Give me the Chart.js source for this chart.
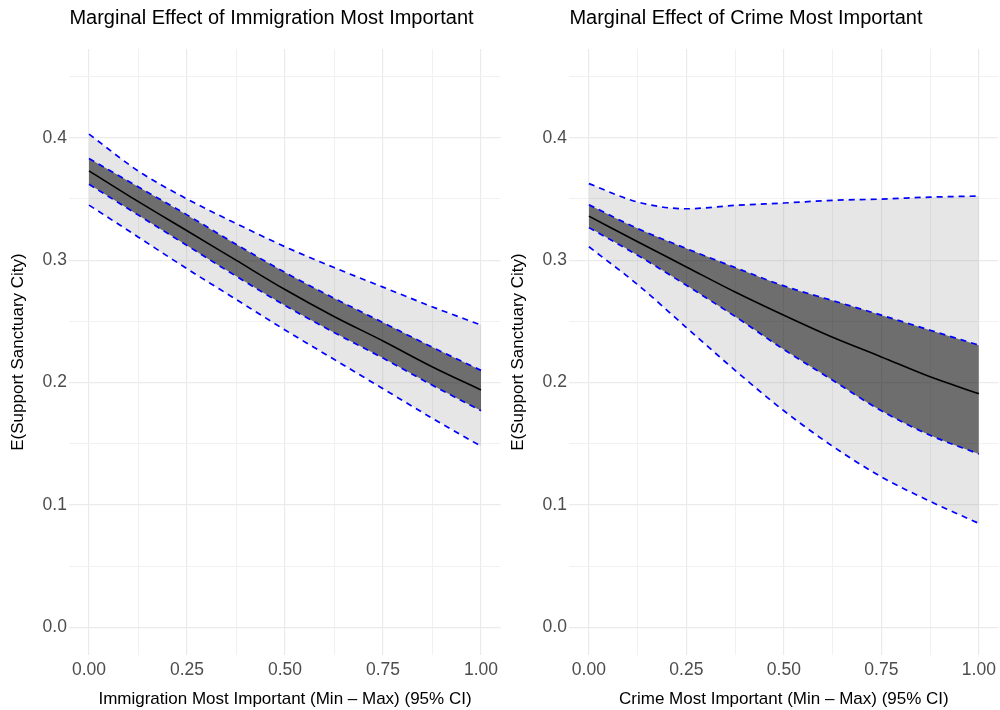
<!DOCTYPE html>
<html><head><meta charset="utf-8">
<script src="https://cdn.jsdelivr.net/npm/chart.js@4.4.1/dist/chart.umd.min.js"></script>
<style>
html,body{margin:0;padding:0;background:#fff;overflow:hidden;width:1000px;height:710px;}
#c1{position:absolute;left:0;top:0;}
#c2{position:absolute;left:500px;top:0;}
</style></head><body>
<canvas id="c1" width="510" height="710"></canvas>
<canvas id="c2" width="501" height="710"></canvas>
<script>
// ---- data ----
const xValues = [0, 0.125, 0.25, 0.375, 0.5, 0.625, 0.75, 0.875, 1];

const immFit    = [0.373, 0.348, 0.324, 0.300, 0.276, 0.254, 0.234, 0.213, 0.194];
const immHiIn   = [0.383, 0.360, 0.337, 0.313, 0.290, 0.269, 0.249, 0.229, 0.210];
const immLoIn   = [0.362, 0.337, 0.312, 0.287, 0.263, 0.241, 0.220, 0.198, 0.177];
const immHi95   = [0.403, 0.373, 0.350, 0.330, 0.311, 0.294, 0.278, 0.262, 0.247];
const immLo95   = [0.345, 0.319, 0.293, 0.268, 0.243, 0.219, 0.195, 0.171, 0.148];

const crimeFit  = [0.336, 0.315, 0.2945, 0.274, 0.255, 0.237, 0.221, 0.2047, 0.191];
const crimeHiIn = [0.3453, 0.3258, 0.3095, 0.294, 0.279, 0.267, 0.2551, 0.2428, 0.2306];
const crimeLoIn = [0.3266, 0.304, 0.2795, 0.254, 0.227, 0.202, 0.177, 0.157, 0.1417];
const crimeHi95 = [0.3625, 0.3475, 0.342, 0.3448, 0.3467, 0.3489, 0.3499, 0.3515, 0.3524];
const crimeLo95 = [0.311, 0.280, 0.245, 0.210, 0.177, 0.148, 0.123, 0.103, 0.085];

const xMajorValues = [0, 0.25, 0.5, 0.75, 1];
const xTickLabels  = ['0.00', '0.25', '0.50', '0.75', '1.00'];
const xGridValues  = [0, 0.125, 0.25, 0.375, 0.5, 0.625, 0.75, 0.875, 1];
const yMajorValues = [0, 0.1, 0.2, 0.3, 0.4];
const yTickLabels  = ['0.0', '0.1', '0.2', '0.3', '0.4'];
const yGridValues  = [0, 0.05, 0.1, 0.15, 0.2, 0.25, 0.3, 0.35, 0.4, 0.45];

const titles  = ['Marginal Effect of Immigration Most Important', 'Marginal Effect of Crime Most Important'];
const xTitles = ['Immigration Most Important (Min \u2013 Max) (95% CI)', 'Crime Most Important (Min \u2013 Max) (95% CI)'];
const yTitle  = 'E(Support Sanctuary City)';

// ---- styling ----
const FAM = "'Liberation Sans', Arial, Helvetica, sans-serif";
const BLUE = '#0000FF';
const DASH = [6, 5];

function findIdx(arr, v) {
  for (let i = 0; i < arr.length; i++) if (Math.abs(arr[i] - v) < 1e-6) return i;
  return -1;
}
const gridColor = majors => ctx => (ctx.tick && findIdx(majors, ctx.tick.value) >= 0) ? '#EBEBEB' : '#F1F1F1';
const gridWidth = majors => ctx => (ctx.tick && findIdx(majors, ctx.tick.value) >= 0) ? 1.2 : 1.0;

function buildChart(id, idx, fit, hiIn, loIn, hi95, lo95, padRight) {
  const pts = ys => xValues.map((x, i) => ({x: x, y: ys[i]}));
  const dashed = (ys, extra) => Object.assign({
    data: pts(ys), borderColor: BLUE, borderWidth: 1.7, borderDash: DASH, fill: false
  }, extra || {});
  return new Chart(document.getElementById(id), {
    type: 'line',
    data: {
      datasets: [
        {data: pts(fit), borderColor: '#000000', borderWidth: 1.6, fill: false},
        dashed(hiIn, {fill: '+1', backgroundColor: 'rgba(0,0,0,0.52)'}),
        dashed(loIn),
        dashed(hi95, {fill: '+1', backgroundColor: 'rgba(128,128,128,0.2)'}),
        dashed(lo95)
      ]
    },
    options: {
      responsive: false,
      animation: false,
      devicePixelRatio: 1,
      layout: {padding: {left: 0, right: padRight, top: 0, bottom: 0}},
      elements: {point: {radius: 0}, line: {cubicInterpolationMode: 'monotone'}},
      plugins: {
        legend: {display: false},
        tooltip: {enabled: false},
        filler: {drawTime: 'beforeDatasetsDraw'},
        title: {
          display: true, text: titles[idx], align: 'start', fullSize: false,
          color: '#000000', font: {family: FAM, size: 20, weight: 'normal'},
          padding: {top: 6, bottom: 19}
        }
      },
      scales: {
        x: {
          type: 'linear', min: -0.05, max: 1.05,
          afterBuildTicks: s => { s.ticks = xGridValues.map(v => ({value: v})); },
          afterFit: s => { s.height = 55; },
          grid: {drawTicks: false, color: gridColor(xMajorValues), lineWidth: gridWidth(xMajorValues)},
          border: {display: false},
          ticks: {
            autoSkip: false, maxRotation: 0, padding: 5, color: '#4D4D4D',
            font: {family: FAM, size: 17.5},
            callback: v => { const i = findIdx(xMajorValues, v); return i >= 0 ? xTickLabels[i] : ''; }
          },
          title: {display: true, text: xTitles[idx], color: '#000000',
                  font: {family: FAM, size: 17}, padding: {top: 0, bottom: 0}}
        },
        y: {
          type: 'linear', min: -0.0225, max: 0.4725,
          afterBuildTicks: s => { s.ticks = yGridValues.map(v => ({value: v})); },
          afterFit: s => { s.width = 69.4; },
          grid: {drawTicks: false, color: gridColor(yMajorValues), lineWidth: gridWidth(yMajorValues)},
          border: {display: false},
          ticks: {
            autoSkip: false, padding: 2.5, color: '#4D4D4D',
            font: {family: FAM, size: 17.5},
            callback: v => { const i = findIdx(yMajorValues, v); return i >= 0 ? yTickLabels[i] : ''; }
          },
          title: {display: true, text: yTitle, color: '#000000',
                  font: {family: FAM, size: 17}, padding: {top: 8, bottom: 0}}
        }
      }
    }
  });
}

buildChart('c1', 0, immFit, immHiIn, immLoIn, immHi95, immLo95, 9.4);
buildChart('c2', 1, crimeFit, crimeHiIn, crimeLoIn, crimeHi95, crimeLo95, 0);
</script>
</body></html>
